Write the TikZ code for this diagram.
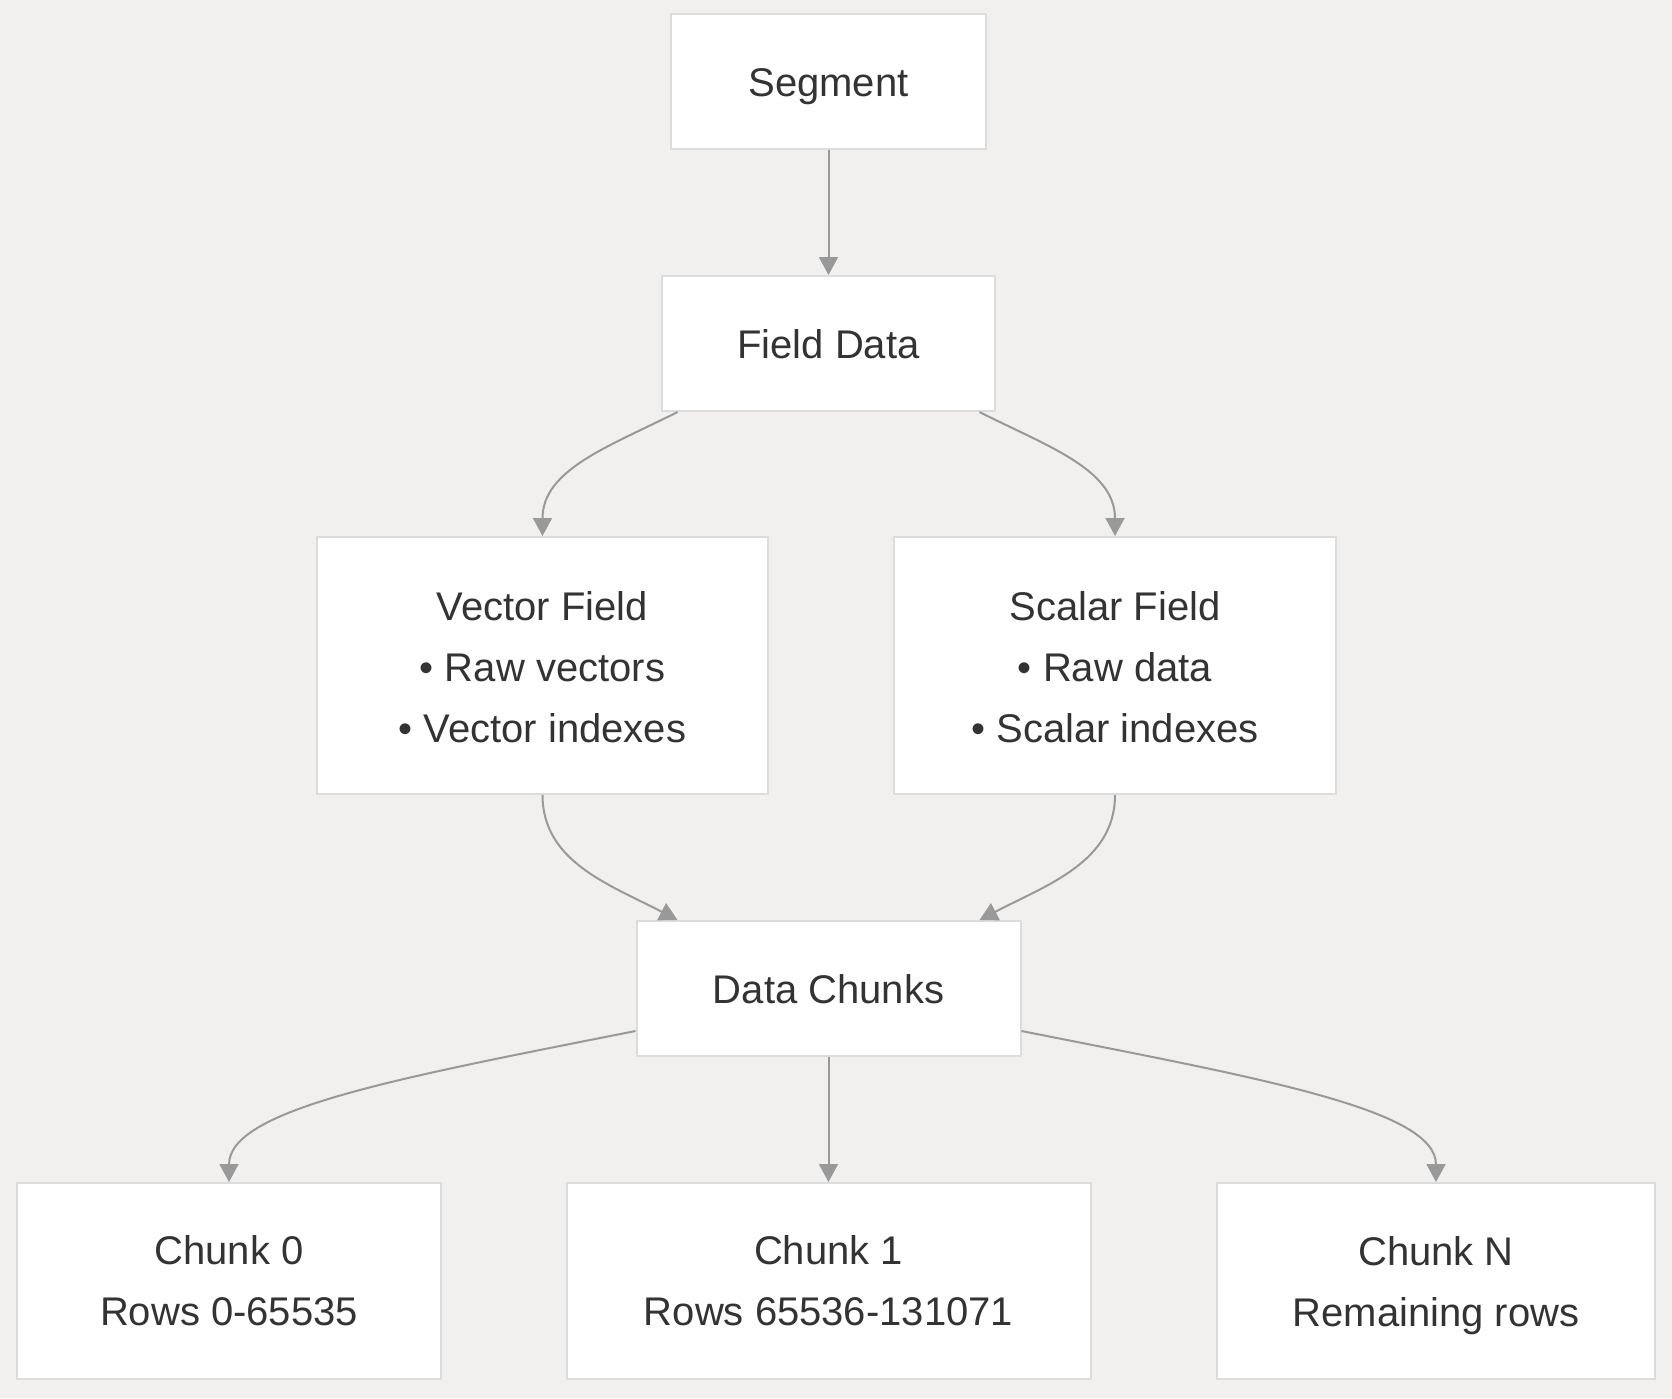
\documentclass[tikz,border=0pt]{standalone}
\usepackage{fontspec}
\setmainfont{Liberation Sans}
\usetikzlibrary{arrows.meta}
\definecolor{canvas}{HTML}{F1F0EE}
\definecolor{boxline}{HTML}{DCDCDC}
\definecolor{ink}{HTML}{333333}
\definecolor{wire}{HTML}{999999}
\newcommand{\linestrut}{\rule[-9pt]{0pt}{47pt}}
\newcommand{\toprise}{\rule{0pt}{33pt}}
\tikzset{
  box/.style={draw=boxline, fill=white, line width=2pt, text=ink, align=center,
    font=\fontsize{40}{61}\selectfont, inner sep=0pt},
  onebox/.style={box, execute at begin node=\linestrut},
  flow/.style={draw=wire, line width=2pt, -{Triangle[length=18pt,width=19pt]}}
}
\begin{document}
\begin{tikzpicture}[x=1pt,y=-1pt]
 \fill[canvas] (0,0) rectangle (1672,1398);
 \useasboundingbox (0,0) rectangle (1672,1398);
 % boxes
 \node[onebox,minimum width=315pt,minimum height=135pt] (seg) at (828.5,81.5) {Segment};
 \node[onebox,minimum width=333pt,minimum height=135pt] (fd) at (828.5,343.5) {Field Data};
 \node[box,minimum width=451pt,minimum height=257pt] (vf) at (542.5,665.5) {\toprise Vector Field\\• Raw vectors\\• Vector indexes};
 \node[box,minimum width=442pt,minimum height=257pt] (sf) at (1115,665.5) {\toprise Scalar Field\\• Raw data\\• Scalar indexes};
 \node[onebox,minimum width=384pt,minimum height=135pt] (dc) at (828.5,988.5) {Data Chunks};
 \node[box,minimum width=424pt,minimum height=196pt] (c0) at (229,1281) {Chunk 0\\Rows 0-65535};
 \node[box,minimum width=524pt,minimum height=196pt] (c1) at (828.5,1281) {Chunk 1\\Rows 65536-131071};
 \node[box,minimum width=438pt,minimum height=196pt] (cn) at (1436,1281) {Chunk N\\\smash{Remaining rows}};
 % connectors
 \draw[flow] (seg) -- (fd);
 \draw[flow] ([xshift=-151pt]fd.south) .. controls +(-67,34) and +(0,-67) .. (vf.north);
 \draw[flow] ([xshift=151pt]fd.south) .. controls +(67,34) and +(0,-67) .. (sf.north);
 \draw[flow] (vf.south) .. controls +(0,67) and +(-67,-35) .. ([xshift=-151pt]dc.north);
 \draw[flow] (sf.south) .. controls +(0,67) and +(67,-35) .. ([xshift=151pt]dc.north);
 \draw[flow] ([yshift=-42.5pt]dc.west) .. controls +(-237,47) and +(0,-73) .. (c0.north);
 \draw[flow] (dc) -- (c1);
 \draw[flow] ([yshift=-42.5pt]dc.east) .. controls +(237,47) and +(0,-73) .. (cn.north);
\end{tikzpicture}
\end{document}
